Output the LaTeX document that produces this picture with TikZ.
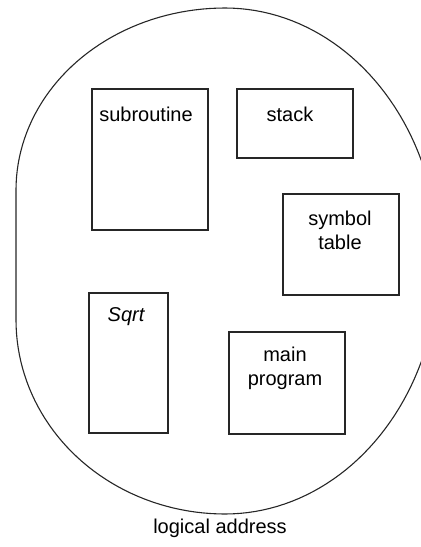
\documentclass[tikz,border=0pt]{standalone}
\usepackage{fontspec}
\setmainfont{Liberation Sans}
\usetikzlibrary{fit}
\begin{document}
\begin{tikzpicture}[x=0.5pt,y=-0.5pt,
  box/.style={draw, line width=0.55pt, inner sep=0pt, color=black!85},
  lbl/.style={inner sep=0pt, align=center, font=\fontsize{10}{12}\selectfont}]
\useasboundingbox (0,0) rectangle (421,547);
\clip (0,0) rectangle (421,547);
% outline of the logical address space
\draw[line width=0.55pt, color=black!85]
  plot[domain=0:180, samples=90] ({225+214*sin(\x)}, {261-253*cos(\x)})
  -- plot[domain=0:90, samples=45] ({225-209*sin(\x)}, {320+194*cos(\x)})
  -- plot[domain=90:180, samples=45] ({225-209*sin(\x)}, {190+182*cos(\x)})
  -- cycle;
% segments
\node[box, fit={(92,89) (208,230)}] (sub) {};
\node[lbl] (subt) at (146,114) {subroutine};
\node[box, fit={(237,89) (353,158)}] (stk) {};
\node[lbl] (stkt) at (290,114) {stack};
\node[box, fit={(283,194) (399,295)}] (sym) {};
\node[lbl] (symt) at (340,230) {symbol\\table};
\node[box, fit={(89,293) (168,433)}] (sq) {};
\node[lbl] (sqt) at (126,317) {\itshape Sqrt};
\node[box, fit={(229,332) (345,434)}] (mp) {};
\node[lbl] (mpt) at (285,368.5) {main\\program};
\node[lbl] (cap) at (220,528) {logical address};
\end{tikzpicture}
\end{document}
